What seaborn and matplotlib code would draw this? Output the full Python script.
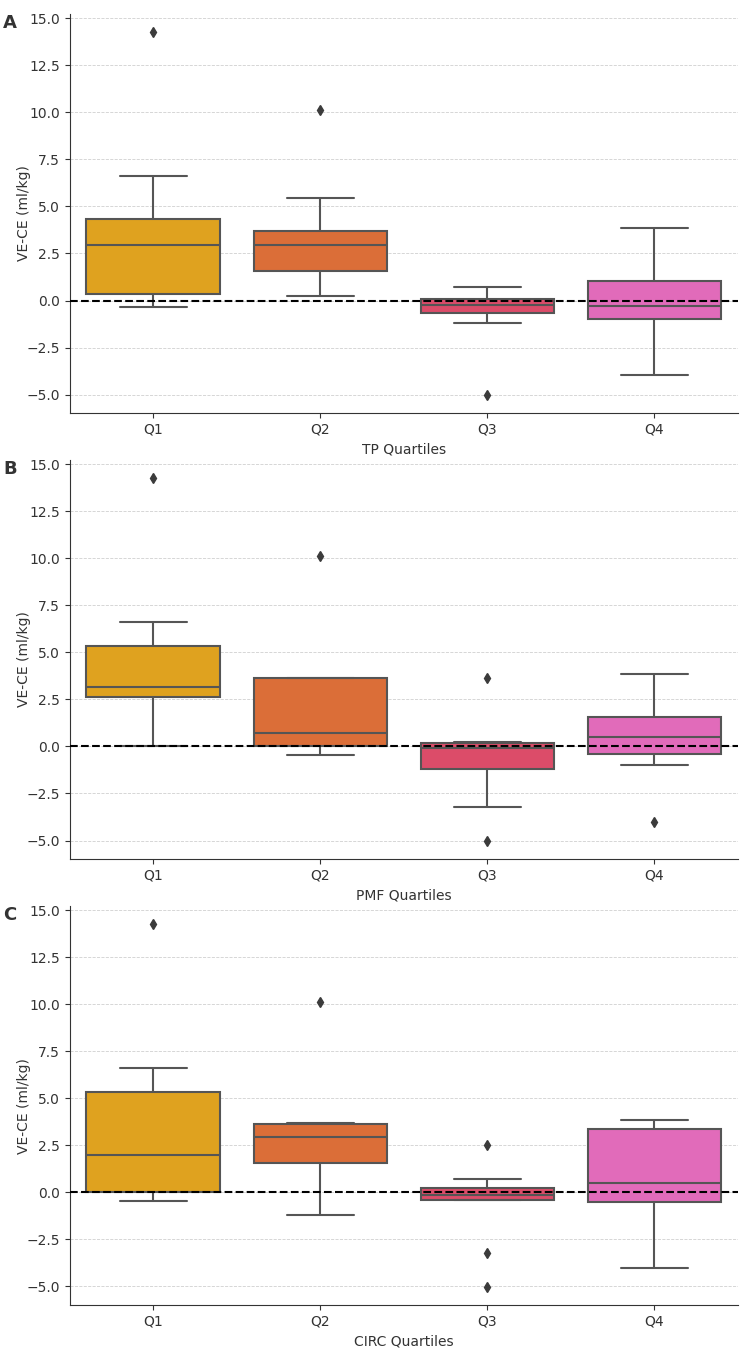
import numpy as np
import pandas as pd
import matplotlib
matplotlib.use("Agg")
import matplotlib.pyplot as plt
import seaborn as sns

# ── data (VE-CE in ml/kg) ──
quartiles = ["Q1", "Q2", "Q3", "Q4"]

tp_q1 = [-0.35, 0.10, 0.37, 1.60, 2.94, 3.70, 4.31, 6.61, 14.25]
tp_q2 = [0.26, 0.90, 1.58, 2.30, 2.97, 3.30, 3.68, 5.45, 10.10]
tp_q3 = [-5.01, -1.18, -0.67, -0.45, -0.25, -0.05, 0.10, 0.40, 0.74]
tp_q4 = [-3.97, -2.00, -0.99, -0.60, -0.28, 0.30, 1.02, 2.10, 3.85]

pmf_q1 = [0.02, 1.20, 2.60, 2.90, 3.15, 4.50, 5.32, 6.60, 14.25]
pmf_q2 = [-0.46, -0.20, 0.00, 0.30, 0.70, 2.50, 3.61, 3.66, 10.10]
pmf_q3 = [-5.02, -3.20, -1.20, -0.60, -0.10, 0.05, 0.16, 0.25, 3.66]
pmf_q4 = [-4.00, -0.99, -0.41, 0.10, 0.51, 1.00, 1.57, 2.50, 3.86]

circ_q1 = [-0.46, -0.20, 0.00, 0.90, 1.99, 3.80, 5.32, 6.60, 14.25]
circ_q2 = [-1.21, 0.60, 1.55, 2.40, 2.94, 3.30, 3.61, 3.66, 10.10]
circ_q3 = [-5.03, -3.21, -0.41, -0.25, -0.12, 0.05, 0.24, 0.70, 2.49]
circ_q4 = [-4.00, -2.00, -0.49, 0.00, 0.52, 2.00, 3.37, 3.60, 3.85]

panels = [
    ("A", "TP Quartiles", [tp_q1, tp_q2, tp_q3, tp_q4]),
    ("B", "PMF Quartiles", [pmf_q1, pmf_q2, pmf_q3, pmf_q4]),
    ("C", "CIRC Quartiles", [circ_q1, circ_q2, circ_q3, circ_q4]),
]

palette = ["#DFA21F", "#DB6E38", "#DC4C69", "#E16BBA"]
TEXT = "#333333"
LINE = "#555555"

sns.set_style("ticks")
plt.rcParams.update({
    "font.family": ["DejaVu Sans"],
    "text.color": TEXT,
    "axes.labelcolor": TEXT,
    "xtick.color": TEXT,
    "ytick.color": TEXT,
    "axes.edgecolor": TEXT,
})

fig, axes = plt.subplots(3, 1, figsize=(7.5, 13.5), dpi=100)
fig.subplots_adjust(left=0.093, right=0.984, top=0.9896, bottom=0.0333,
                    hspace=0.118)

for ax, (letter, xlab, groups) in zip(axes, panels):
    df = pd.DataFrame({
        "quartile": np.repeat(quartiles, [len(g) for g in groups]),
        "value": np.concatenate(groups),
    })
    sns.boxplot(
        data=df, x="quartile", y="value", hue="quartile",
        order=quartiles, hue_order=quartiles, palette=palette,
        saturation=1, width=0.8, legend=False, ax=ax,
        linecolor=LINE, linewidth=1.5,
        flierprops=dict(marker="d", markersize=5,
                        markerfacecolor="#3b3b3b", markeredgecolor="#3b3b3b"),
    )
    ax.axhline(0, color="black", linestyle="--", linewidth=1.5, zorder=10)
    ax.yaxis.grid(True, linestyle="--", linewidth=0.6, color="#d0d0d0")
    ax.set_axisbelow(True)
    ax.set_yticks(np.arange(-5, 15.1, 2.5))
    ax.set_ylabel("VE-CE (ml/kg)", fontsize=10, labelpad=-3)
    ax.set_xlabel(xlab, fontsize=10)
    ax.tick_params(labelsize=10)
    sns.despine(ax=ax)
    ax.text(-0.1, 1.0, letter, transform=ax.transAxes, fontsize=13,
            fontweight="bold", va="top", ha="left", color=TEXT)

plt.savefig("out.png", dpi=100)
